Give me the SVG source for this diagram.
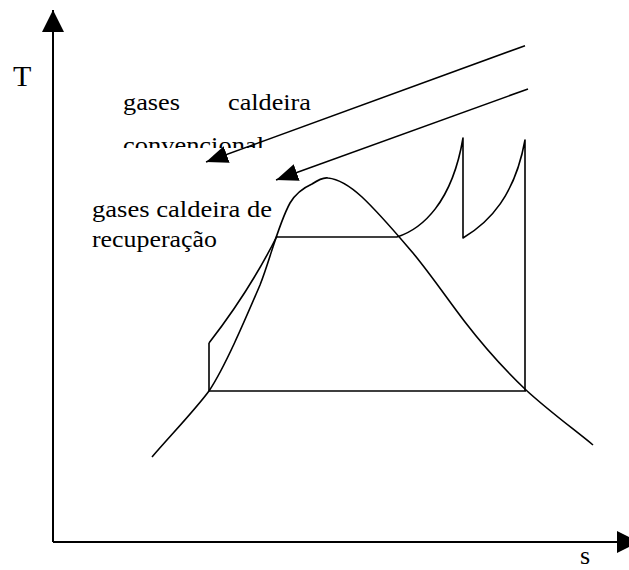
<svg xmlns="http://www.w3.org/2000/svg" width="629" height="570" viewBox="0 0 629 570">
<style>
.ln{fill:none;stroke:#000;stroke-width:1.6;stroke-linejoin:round}
.ax{fill:none;stroke:#000;stroke-width:2}
.tx{font-family:"Liberation Serif","DejaVu Serif",serif}
</style>
<defs>
<marker id="axh" markerUnits="userSpaceOnUse" markerWidth="22" markerHeight="22" refX="20" refY="10" orient="auto" viewBox="0 0 20 20"><path d="M0,0 L20,10 L0,20 z" fill="#000"/></marker>
<marker id="ah" markerUnits="userSpaceOnUse" markerWidth="22" markerHeight="18" refX="20" refY="8" orient="auto" viewBox="0 0 20 16"><path d="M0,0 L20,8 L0,16 z" fill="#000"/></marker>
<clipPath id="clipConv"><rect x="0" y="0" width="629" height="148"/></clipPath>
</defs>
<g id="axes">
<line class="ax" x1="53" y1="542" x2="53" y2="10" marker-end="url(#axh)"/>
<line class="ax" x1="53" y1="542" x2="639" y2="542" marker-end="url(#axh)"/>
</g>
<g id="labels" class="tx" font-size="23" fill="#000">
<text class="tx" x="13" y="86" font-size="30">T</text>
<text class="tx" x="580" y="564" font-size="26">s</text>
<text class="tx" x="123" y="110" textLength="57" lengthAdjust="spacingAndGlyphs">gases</text>
<text class="tx" x="228" y="110" textLength="83" lengthAdjust="spacingAndGlyphs">caldeira</text>
<text class="tx" x="123" y="152.5" textLength="141" lengthAdjust="spacingAndGlyphs" clip-path="url(#clipConv)">convencional</text>
<text class="tx" x="92" y="217" textLength="180" lengthAdjust="spacingAndGlyphs">gases caldeira de</text>
<text class="tx" x="92" y="247" textLength="125" lengthAdjust="spacingAndGlyphs">recuperação</text>
</g>
<g id="dome">
<path class="ln" d="M152,457 C170,436 195,410 209,391 C225,367 245,320 260,285 C270,260 278,225 290,203 C296,193 303,188 312,184 C318,180 323,177 328,178 C338,179 350,186 362,197 C380,214 395,232 413,253 C432,276 448,300 465,322 C485,348 505,370 526,390 C550,412 575,430 593,445"/>
</g>
<g id="cycle">
<path class="ln" d="M209,343 Q250,290 277,236"/>
<path class="ln" d="M209,343 V391 H526"/>
<path class="ln" d="M277,237 H397"/>
<path class="ln" d="M397,237 C422,229 452,203 463,138 V238 C490,222 515,195 525,140 V391"/>
</g>
<g id="connectors">
<line class="ln" x1="525" y1="45.7" x2="206" y2="162" marker-end="url(#ah)"/>
<line class="ln" x1="528" y1="89" x2="276" y2="180" marker-end="url(#ah)"/>
</g>
</svg>
